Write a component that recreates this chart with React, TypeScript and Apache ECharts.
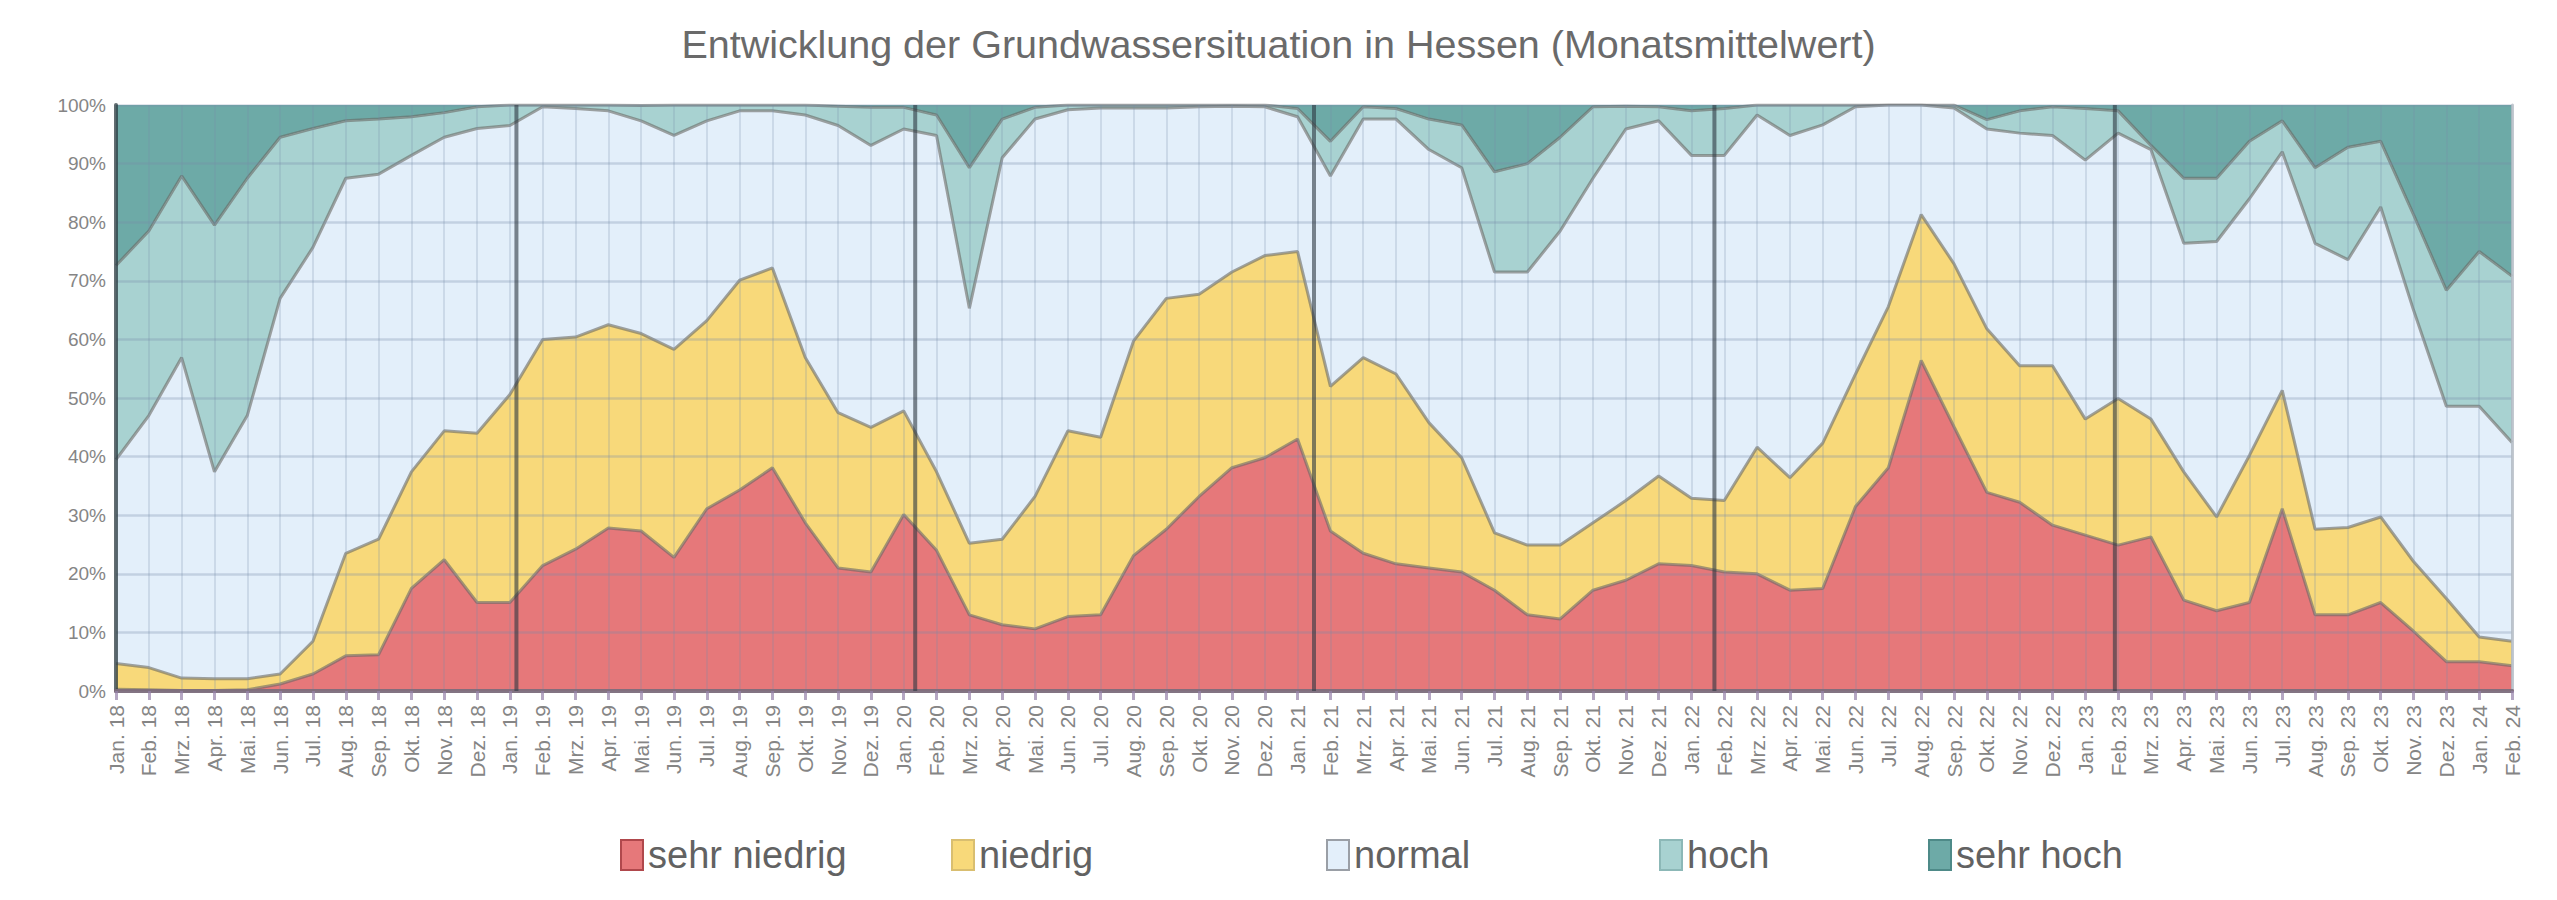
import React, { useEffect, useRef } from 'react';
import * as echarts from 'echarts';

const monthNames = ['Jan.', 'Feb.', 'Mrz.', 'Apr.', 'Mai.', 'Jun.', 'Jul.', 'Aug.', 'Sep.', 'Okt.', 'Nov.', 'Dez.'];
const yearSuffixes = ['18', '19', '20', '21', '22', '23', '24'];
const categories: string[] = [];
yearSuffixes.forEach((y) => monthNames.forEach((m) => categories.push(`${m} ${y}`)));
const monthLabels = categories.slice(0, 74);

const sehrNiedrig = [0.3, 0.2, 0.1, 0.1, 0.2, 1.2, 2.9, 6.0, 6.2, 17.5, 22.4, 15.1,
  15.1, 21.4, 24.2, 27.8, 27.3, 22.8, 31.1, 34.3, 38.1, 28.7, 21.0, 20.3,
  30.1, 24.0, 13.0, 11.3, 10.6, 12.7, 13.0, 23.1, 27.6, 33.2, 38.1, 39.8,
  43.0, 27.3, 23.5, 21.7, 21.0, 20.3, 17.2, 13.0, 12.3, 17.2, 18.9, 21.7,
  21.4, 20.3, 20.0, 17.2, 17.5, 31.5, 38.1, 56.4, 45.1, 33.9, 32.2, 28.3,
  26.6, 24.9, 26.3, 15.5, 13.7, 15.1, 31.1, 13.0, 13.0, 15.1, 10.2, 5.0, 5.0, 4.3];
const niedrig = [4.4, 3.8, 2.1, 2.0, 1.9, 1.7, 5.6, 17.5, 19.7, 19.9, 22.0, 28.9,
  35.5, 38.6, 36.2, 34.7, 33.7, 35.5, 32.1, 35.8, 34.1, 28.2, 26.5, 24.7,
  17.7, 13.4, 12.2, 14.6, 22.6, 31.7, 30.3, 36.6, 39.4, 34.5, 33.4, 34.5,
  32.0, 24.7, 33.4, 32.4, 24.8, 19.5, 9.8, 11.9, 12.6, 11.5, 13.6, 15.0,
  11.5, 12.2, 21.6, 19.2, 24.8, 22.6, 27.5, 24.9, 27.8, 27.9, 23.3, 27.2,
  19.8, 25.0, 20.1, 21.9, 16.0, 25.1, 20.2, 14.6, 14.9, 14.6, 11.9, 10.8, 4.2, 4.2];
const normal = [34.8, 43.0, 54.7, 35.3, 44.9, 64.1, 67.2, 64.0, 62.3, 54.0, 50.1, 52.0,
  45.9, 39.7, 39.0, 36.5, 36.3, 36.5, 34.1, 28.9, 26.8, 41.4, 49.0, 48.1,
  48.1, 57.4, 40.1, 65.1, 64.4, 54.8, 56.2, 39.8, 32.5, 32.0, 28.3, 25.4,
  23.0, 35.9, 40.7, 43.5, 46.6, 49.5, 44.5, 46.6, 53.6, 58.8, 63.4, 60.6,
  58.5, 58.9, 56.7, 58.4, 54.3, 45.6, 34.4, 18.7, 26.6, 34.1, 39.7, 39.3,
  44.2, 45.3, 46.0, 39.0, 47.0, 43.8, 40.7, 48.8, 45.7, 52.9, 42.9, 32.8, 39.4, 33.9];
const hoch = [33.1, 31.5, 31.0, 42.1, 40.5, 27.5, 20.3, 9.8, 9.4, 6.6, 4.2, 3.7,
  3.5, 0.3, 0.6, 1.0, 2.6, 5.2, 2.7, 1.0, 1.0, 1.7, 3.3, 6.5,
  3.7, 3.5, 24.0, 6.6, 2.0, 0.8, 0.5, 0.5, 0.5, 0.3, 0.2, 0.3,
  1.4, 5.9, 2.1, 1.8, 5.2, 7.3, 17.1, 18.5, 16.0, 12.2, 3.9, 2.4,
  7.6, 8.0, 1.7, 5.2, 3.4, 0.3, 0, 0, 0.5, 1.6, 3.8, 4.9,
  8.8, 3.8, 0.7, 11.1, 10.8, 9.8, 5.3, 12.9, 19.2, 11.2, 16.3, 19.8, 26.4, 28.4];
const sehrHoch = [27.4, 21.5, 12.1, 20.5, 12.5, 5.5, 4.0, 2.7, 2.4, 2.0, 1.3, 0.3,
  0, 0, 0, 0, 0.1, 0, 0, 0, 0, 0, 0.2, 0.4,
  0.4, 1.7, 10.7, 2.4, 0.4, 0, 0, 0, 0, 0, 0, 0,
  0.6, 6.2, 0.3, 0.6, 2.4, 3.4, 11.4, 10.0, 5.5, 0.3, 0.2, 0.3,
  1.0, 0.6, 0, 0, 0, 0, 0, 0, 0, 2.5, 1.0, 0.3,
  0.6, 1.0, 6.9, 12.5, 12.5, 6.2, 2.7, 10.7, 7.2, 6.2, 18.7, 31.6, 25.0, 29.2];

// year dividers as drawn in the original (month index along the axis)
const yearDividers = [12.2, 24.35, 36.5, 48.7, 60.9];
const yTicks = [0, 10, 20, 30, 40, 50, 60, 70, 80, 90, 100];

const seriesDefs = [
  { name: 'sehr niedrig', data: sehrNiedrig, color: '#E6787A', border: '#B0484C' },
  { name: 'niedrig', data: niedrig, color: '#F8D97A', border: '#D9BE70' },
  { name: 'normal', data: normal, color: '#E3EFFA', border: '#9A9FA6' },
  { name: 'hoch', data: hoch, color: '#A8D2D1', border: '#8CB8B7' },
  { name: 'sehr hoch', data: sehrHoch, color: '#6DAAA7', border: '#4E8A88' },
];

const legendLeft = [620, 951, 1326, 1659, 1928];
const FONT = 'Liberation Sans';

export default function App() {
  const ref = useRef<HTMLDivElement>(null);
  useEffect(() => {
    document.body.style.margin = '0';
    document.body.style.overflow = 'hidden';
    if (!ref.current) return;
    const chart = echarts.init(ref.current, null, { renderer: 'svg' });
    const series: any[] = seriesDefs.map((s, idx) => ({
      type: 'line',
      name: s.name,
      stack: 'total',
      data: s.data,
      symbol: 'none',
      showSymbol: false,
      silent: true,
      z: 10 - idx,
      lineStyle: { color: 'rgba(105,105,100,0.6)', width: idx === 4 ? 0 : 3 },
      areaStyle: { color: s.color, opacity: 1 },
      itemStyle: { color: s.color },
      emphasis: { disabled: true },
    }));
    series.push({
      type: 'custom',
      name: 'Jahresgrenzen',
      xAxisIndex: 1,
      yAxisIndex: 0,
      silent: true,
      z: 15,
      data: yearDividers,
      encode: { x: 0 },
      renderItem: (params: any, api: any) => {
        const x = api.value(0);
        const p0 = api.coord([x, yTicks[0]]);
        const p1 = api.coord([x, yTicks[yTicks.length - 1]]);
        return {
          type: 'line',
          shape: { x1: p0[0], y1: p0[1], x2: p1[0], y2: p1[1] },
          style: { stroke: 'rgba(45,55,65,0.6)', lineWidth: 4 },
        };
      },
    });
    chart.setOption({
      animation: false,
      backgroundColor: '#ffffff',
      textStyle: { fontFamily: FONT },
      title: {
        text: 'Entwicklung der Grundwassersituation in Hessen (Monatsmittelwert)',
        left: 'center',
        top: 24,
        padding: 0,
        textStyle: { fontSize: 39.5, fontWeight: 'normal', color: '#6a6a6a', fontFamily: FONT },
      },
      legend: seriesDefs.map((s, i) => ({
        data: [{ name: s.name, itemStyle: { color: s.color, borderColor: s.border, borderWidth: 2 } }],
        left: legendLeft[i],
        top: 836,
        padding: 0,
        icon: 'rect',
        itemWidth: 22,
        itemHeight: 30,
        itemGap: 0,
        selectedMode: false,
        textStyle: { fontSize: 38, color: '#626262', fontFamily: FONT },
      })),
      grid: { left: 116, right: 45, top: 105, bottom: 209, containLabel: false },
      xAxis: [
        {
          type: 'category',
          data: monthLabels,
          boundaryGap: false,
          z: 12,
          axisLine: { show: true, lineStyle: { color: 'rgba(140,50,80,0.8)', width: 4 } },
          axisTick: { show: true, interval: 0, length: 9, lineStyle: { color: 'rgba(150,130,170,0.7)', width: 3 } },
          axisLabel: { interval: 0, rotate: 90, fontSize: 21, color: '#858585', margin: 14 },
          splitLine: { show: true, interval: 0, lineStyle: { color: 'rgba(120,140,170,0.22)', width: 2 } },
        },
        {
          type: 'value',
          position: 'top',
          min: 0,
          max: monthLabels.length - 1,
          z: 12,
          axisLine: { show: true, lineStyle: { color: 'rgba(120,130,140,0.7)', width: 4 } },
          axisTick: { show: false },
          axisLabel: { show: false },
          splitLine: { show: false },
        },
      ],
      yAxis: [
        {
          type: 'value',
          min: yTicks[0],
          max: yTicks[yTicks.length - 1],
          interval: 10,
          z: 12,
          axisLine: { show: true, lineStyle: { color: 'rgba(45,60,65,0.75)', width: 4 } },
          axisTick: { show: false },
          axisLabel: { fontSize: 19, color: '#858585', margin: 10, formatter: '{value}%' },
          splitLine: { show: true, lineStyle: { color: 'rgba(120,140,170,0.3)', width: 2.5 } },
        },
        {
          type: 'value',
          position: 'right',
          min: 0,
          max: 100,
          z: 12,
          axisLine: { show: true, lineStyle: { color: 'rgba(180,188,196,0.8)', width: 3 } },
          axisTick: { show: false },
          axisLabel: { show: false },
          splitLine: { show: false },
        },
      ],
      series,
    });
    return () => chart.dispose();
  }, []);
  return <div ref={ref} style={{ width: 2557, height: 900 }} />;
}
